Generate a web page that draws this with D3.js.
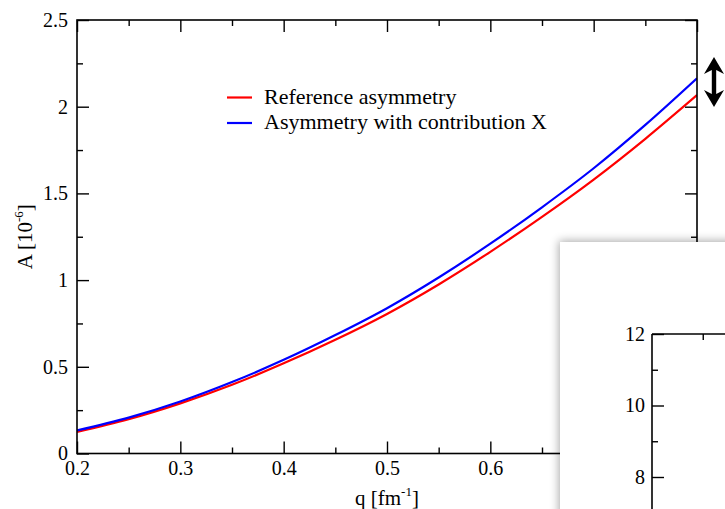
<!DOCTYPE html>
<html>
<head>
<meta charset="utf-8">
<script src="https://cdn.jsdelivr.net/npm/d3@7"></script>
<style>
  html, body { margin: 0; padding: 0; background: #fff; }
  svg { display: block; }
  text { font-family: "Liberation Serif", "DejaVu Serif", serif; fill: #000; }
</style>
</head>
<body>
<svg id="chart" width="725" height="509"></svg>
<script>
// ---- data ----
const qValues      = [0.20, 0.25, 0.30, 0.35, 0.40, 0.45, 0.50, 0.55, 0.60, 0.65, 0.70, 0.75, 0.80];
const refAsym      = [0.125, 0.198, 0.289, 0.396, 0.520, 0.656, 0.805, 0.975, 1.163, 1.365, 1.580, 1.815, 2.067];
const contribAsym  = [0.133, 0.207, 0.300, 0.412, 0.540, 0.683, 0.838, 1.015, 1.210, 1.420, 1.645, 1.895, 2.164];
const seriesNames  = ["Reference asymmetry", "Asymmetry with contribution X"];
const seriesColors = ["#ff0000", "#0000ff"];
const xMajorTicks  = [0.2, 0.3, 0.4, 0.5, 0.6, 0.7, 0.8];
const xMinorTicks  = [0.25, 0.35, 0.45, 0.55, 0.65, 0.75];
const xTickLabels  = ["0.2", "0.3", "0.4", "0.5", "0.6", "0.7", "0.8"];
const yMajorTicks  = [0, 0.5, 1, 1.5, 2, 2.5];
const yMinorTicks  = [0.25, 0.75, 1.25, 1.75, 2.25];
const yTickLabels  = ["0", "0.5", "1", "1.5", "2", "2.5"];
// inset (only partly visible)
const insetYMajor  = [8, 10, 12];
const insetYMinor  = [7, 9, 11];
const insetYLabels = ["8", "10", "12"];
const insetXMinor  = [0.25];

const svg = d3.select("#chart");
const W = 725, H = 509;

const x = d3.scaleLinear().domain([0.2, 0.8]).range([77, 697]);
const y = d3.scaleLinear().domain([0, 2.5]).range([453.5, 20]);

const FS = 20;

// clip for plot area
svg.append("clipPath").attr("id", "plotclip")
  .append("rect").attr("x", x.range()[0]).attr("y", y.range()[1])
  .attr("width", x.range()[1] - x.range()[0]).attr("height", y.range()[0] - y.range()[1]);

// curves
const line = d3.line().x(d => x(d[0])).y(d => y(d[1])).curve(d3.curveMonotoneX);
const seriesData = [refAsym, contribAsym];
seriesData.forEach((vals, i) => {
  svg.append("path")
    .datum(qValues.map((q, k) => [q, vals[k]]))
    .attr("clip-path", "url(#plotclip)")
    .attr("fill", "none")
    .attr("stroke", seriesColors[i])
    .attr("stroke-width", 2.2)
    .attr("d", line);
});

// axes helper
function styleAxis(g) {
  g.selectAll(".domain").remove();
  g.selectAll("line").attr("stroke", "#000").attr("stroke-width", 1.4);
  g.selectAll("text").attr("font-size", FS).attr("font-family", '"Liberation Serif", serif');
}

const [x0, x1] = x.range();
const [yb, yt] = y.range();

// bottom
svg.append("g").attr("transform", `translate(0,${yb})`)
  .call(d3.axisBottom(x).tickValues(xMajorTicks).tickSize(-12).tickPadding(7)
    .tickFormat((d, i) => xTickLabels[i])).call(styleAxis);
svg.append("g").attr("transform", `translate(0,${yb})`)
  .call(d3.axisBottom(x).tickValues(xMinorTicks).tickSize(-6).tickFormat("")).call(styleAxis);
// top
svg.append("g").attr("transform", `translate(0,${yt})`)
  .call(d3.axisTop(x).tickValues(xMajorTicks).tickSize(-12).tickFormat("")).call(styleAxis);
svg.append("g").attr("transform", `translate(0,${yt})`)
  .call(d3.axisTop(x).tickValues(xMinorTicks).tickSize(-6).tickFormat("")).call(styleAxis);
// left
svg.append("g").attr("transform", `translate(${x0},0)`)
  .call(d3.axisLeft(y).tickValues(yMajorTicks).tickSize(-12).tickPadding(9)
    .tickFormat((d, i) => yTickLabels[i])).call(styleAxis);
svg.append("g").attr("transform", `translate(${x0},0)`)
  .call(d3.axisLeft(y).tickValues(yMinorTicks).tickSize(-6).tickFormat("")).call(styleAxis);
// right
svg.append("g").attr("transform", `translate(${x1},0)`)
  .call(d3.axisRight(y).tickValues(yMajorTicks).tickSize(-12).tickFormat("")).call(styleAxis);
svg.append("g").attr("transform", `translate(${x1},0)`)
  .call(d3.axisRight(y).tickValues(yMinorTicks).tickSize(-6).tickFormat("")).call(styleAxis);

// frame
svg.append("rect").attr("x", x0).attr("y", yt).attr("width", x1 - x0).attr("height", yb - yt)
  .attr("fill", "none").attr("stroke", "#000").attr("stroke-width", 1.6);

// axis titles
const xt = svg.append("text").attr("x", (x0 + x1) / 2).attr("y", 505)
  .attr("text-anchor", "middle").attr("font-size", 21);
xt.append("tspan").text("q [fm");
xt.append("tspan").attr("dy", -9).attr("font-size", 13).text("-1");
xt.append("tspan").attr("dy", 9).text("]");

const yTitle = svg.append("text")
  .attr("transform", `translate(32,${(yt + yb) / 2}) rotate(-90)`)
  .attr("text-anchor", "middle").attr("font-size", 21);
yTitle.append("tspan").text("A [10");
yTitle.append("tspan").attr("dy", -9).attr("font-size", 13).text("-6");
yTitle.append("tspan").attr("dy", 9).text("]");

// legend
const legend = svg.append("g");
seriesNames.forEach((name, i) => {
  const ly = 97.5 + i * 25.5;
  legend.append("line").attr("x1", 227).attr("x2", 252).attr("y1", ly).attr("y2", ly)
    .attr("stroke", seriesColors[i]).attr("stroke-width", 2.2);
  legend.append("text").attr("x", 264).attr("y", ly + 6).attr("font-size", 22).text(name);
});

// double-headed arrow
const ax = x1 + 17;
const ay0 = 57, ay1 = 107, hw = 10, hh = 17, sw = 2.2;
svg.append("path")
  .attr("d", `M${ax},${ay0} L${ax + hw},${ay0 + hh} L${ax + sw},${ay0 + hh - 4} L${ax + sw},${ay1 - hh + 4} L${ax + hw},${ay1 - hh} L${ax},${ay1} L${ax - hw},${ay1 - hh} L${ax - sw},${ay1 - hh + 4} L${ax - sw},${ay0 + hh - 4} L${ax - hw},${ay0 + hh} Z`)
  .attr("fill", "#000");

// inset window with shadow
const defs = svg.append("defs");
const f = defs.append("filter").attr("id", "shadow").attr("x", "-20%").attr("y", "-20%").attr("width", "140%").attr("height", "140%");
f.append("feGaussianBlur").attr("in", "SourceAlpha").attr("stdDeviation", 5).attr("result", "b");
f.append("feOffset").attr("in", "b").attr("dx", -1).attr("dy", -1).attr("result", "o");
f.append("feComponentTransfer").attr("in", "o").attr("result", "s")
  .append("feFuncA").attr("type", "linear").attr("slope", 0.35);
const fm = f.append("feMerge");
fm.append("feMergeNode").attr("in", "s");
fm.append("feMergeNode").attr("in", "SourceGraphic");

svg.append("rect").attr("x", 560).attr("y", 242).attr("width", 220).attr("height", 300)
  .attr("fill", "#fff").attr("filter", "url(#shadow)");

const yIn = d3.scaleLinear().domain([8, 12]).range([477, 334]);
const xIn = d3.scaleLinear().domain([0, 1]).range([652, 855]);
const inset = svg.append("g");
inset.append("g").attr("transform", `translate(${xIn.range()[0]},0)`)
  .call(d3.axisLeft(yIn).tickValues(insetYMajor).tickSize(-12).tickPadding(7)
    .tickFormat((d, i) => insetYLabels[i])).call(styleAxis);
inset.append("g").attr("transform", `translate(${xIn.range()[0]},0)`)
  .call(d3.axisLeft(yIn).tickValues(insetYMinor).tickSize(-6).tickFormat("")).call(styleAxis);
inset.append("g").attr("transform", `translate(0,${yIn(12)})`)
  .call(d3.axisTop(xIn).tickValues(insetXMinor).tickSize(-6).tickFormat("")).call(styleAxis);
inset.append("line").attr("x1", xIn.range()[0]).attr("x2", W + 5)
  .attr("y1", yIn(12)).attr("y2", yIn(12)).attr("stroke", "#000").attr("stroke-width", 1.6);
inset.append("line").attr("x1", xIn.range()[0]).attr("x2", xIn.range()[0])
  .attr("y1", yIn(12)).attr("y2", H + 5).attr("stroke", "#000").attr("stroke-width", 1.6);
</script>
</body>
</html>
